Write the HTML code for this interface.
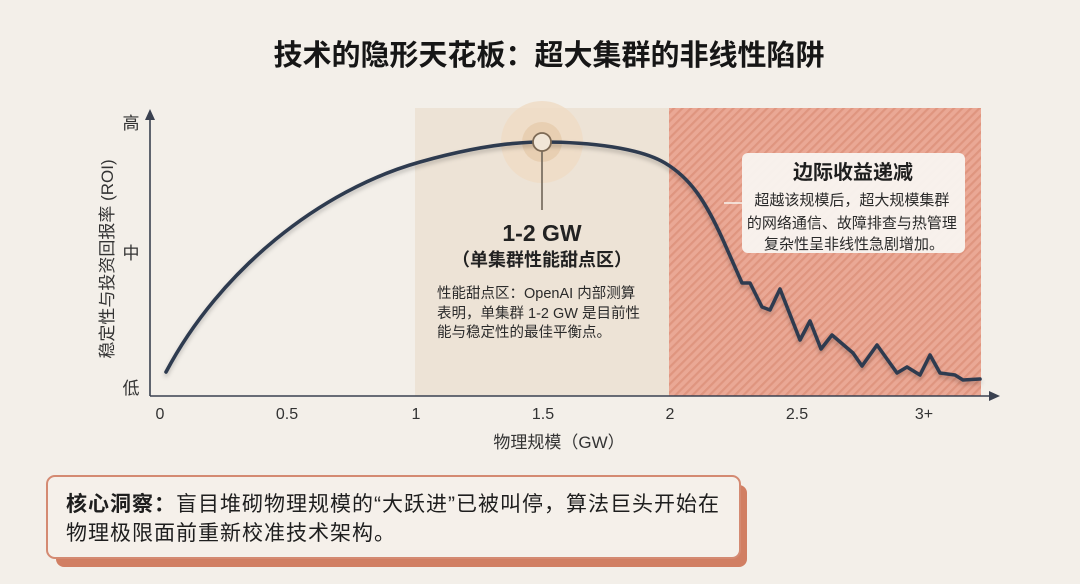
<!DOCTYPE html>
<html><head><meta charset="utf-8">
<style>
html,body{margin:0;padding:0;background:#f3efe9;}
svg{display:block;}
text{font-family:"Liberation Sans","Noto Sans CJK SC",sans-serif;}
</style></head>
<body>
<svg width="1080" height="584" viewBox="0 0 1080 584" xmlns="http://www.w3.org/2000/svg">
<defs>
<pattern id="stripes" patternUnits="userSpaceOnUse" width="6" height="6" patternTransform="rotate(-45)">
<rect width="6" height="6" fill="#eaa895"/>
<rect width="6" height="2.2" fill="#df957f"/>
</pattern>
<filter id="sh" x="-10%" y="-10%" width="120%" height="130%">
<feDropShadow dx="0" dy="3" stdDeviation="2" flood-color="#000" flood-opacity="0.22"/>
</filter>
</defs>
<rect width="1080" height="584" fill="#f3efe9"/>

<!-- Title -->
<text x="549" y="65" font-size="29" font-weight="bold" text-anchor="middle" fill="#161616">技术的隐形天花板：超大集群的非线性陷阱</text>

<!-- zones -->
<rect x="415" y="108" width="254" height="288" fill="#ede3d6"/>
<rect x="669" y="108" width="312" height="288" fill="url(#stripes)"/>

<!-- halo -->
<circle cx="542" cy="142" r="41" fill="#efdcc6" opacity="0.85"/>
<circle cx="542" cy="142" r="20" fill="#e8cfb2"/>

<!-- axes -->
<line x1="150" y1="396" x2="993" y2="396" stroke="#3a4150" stroke-width="1.6"/>
<polygon points="1000,396 989,391 989,401" fill="#3a4150"/>
<line x1="150" y1="396" x2="150" y2="118" stroke="#3a4150" stroke-width="1.6"/>
<polygon points="150,109 145,120 155,120" fill="#3a4150"/>

<!-- curve -->
<path d="M166,372 C220,270 320,190 420,162 C470,148 510,142 542,142 C590,142 640,148 665,163 C690,178 705,200 723,240 L742,283 L750,283 L762,307 L770,310 L780,289 L800,340 L810,321 L821,349 L832,335 L853,353 L862,366 L877,345 L897,373 L907,367 L920,375 L930,355 L940,373 L955,375 L963,380 L980,379" fill="none" stroke="#2f3a50" stroke-width="3.6" stroke-linejoin="round" stroke-linecap="round" filter="url(#sh)"/>

<!-- peak marker -->
<line x1="542" y1="151" x2="542" y2="210" stroke="#6e6458" stroke-width="1.6"/>
<circle cx="542" cy="142" r="9" fill="#f1e6d7" stroke="#7d6a55" stroke-width="1.8"/>

<!-- sweet spot text -->
<text x="542" y="241" font-size="23" font-weight="bold" text-anchor="middle" fill="#222">1-2 GW</text>
<text x="542" y="266" font-size="18" font-weight="bold" text-anchor="middle" fill="#222">（单集群性能甜点区）</text>
<text font-size="14.5" fill="#2a2a2a">
<tspan x="437" y="298">性能甜点区：OpenAI 内部测算</tspan>
<tspan x="437" y="318">表明，单集群 1-2 GW 是目前性</tspan>
<tspan x="437" y="337">能与稳定性的最佳平衡点。</tspan>
</text>

<!-- callout -->
<line x1="724" y1="203" x2="742" y2="203" stroke="#f7f2ec" stroke-width="1.5"/>
<rect x="742" y="153" width="223" height="100" rx="6" fill="#f8f4ef" opacity="0.96"/>
<text x="853" y="179" font-size="20" font-weight="bold" text-anchor="middle" fill="#1e1e1e">边际收益递减</text>
<text font-size="15" text-anchor="middle" fill="#2a2a2a">
<tspan x="854" y="205">超越该规模后，超大规模集群</tspan>
<tspan x="854" y="228">的网络通信、故障排查与热管理</tspan>
<tspan x="854" y="249">复杂性呈非线性急剧增加。</tspan>
</text>

<!-- y labels -->
<text x="131" y="129" font-size="17" text-anchor="middle" fill="#333">高</text>
<text x="131" y="259" font-size="17" text-anchor="middle" fill="#333">中</text>
<text x="131" y="394" font-size="17" text-anchor="middle" fill="#333">低</text>
<text transform="translate(113,259) rotate(-90)" font-size="17" text-anchor="middle" fill="#333">稳定性与投资回报率 (ROI)</text>

<!-- x ticks -->
<g font-size="16" text-anchor="middle" fill="#333">
<text x="160" y="419">0</text>
<text x="287" y="419">0.5</text>
<text x="416" y="419">1</text>
<text x="543" y="419">1.5</text>
<text x="670" y="419">2</text>
<text x="797" y="419">2.5</text>
<text x="924" y="419">3+</text>
</g>
<text x="559" y="448" font-size="17" text-anchor="middle" fill="#333">物理规模（GW）</text>

<!-- bottom insight box -->
<rect x="56" y="485" width="691" height="82" rx="8" fill="#d17f63"/>
<rect x="47" y="476" width="693" height="82" rx="8" fill="#f5f0ea" stroke="#d48a72" stroke-width="2"/>
<text font-size="21" fill="#1e1e1e" letter-spacing="1">
<tspan x="66" y="511"><tspan font-weight="bold">核心洞察：</tspan>盲目堆砌物理规模的“大跃进”已被叫停，算法巨头开始在</tspan>
<tspan x="66" y="540">物理极限面前重新校准技术架构。</tspan>
</text>
</svg>
</body></html>
